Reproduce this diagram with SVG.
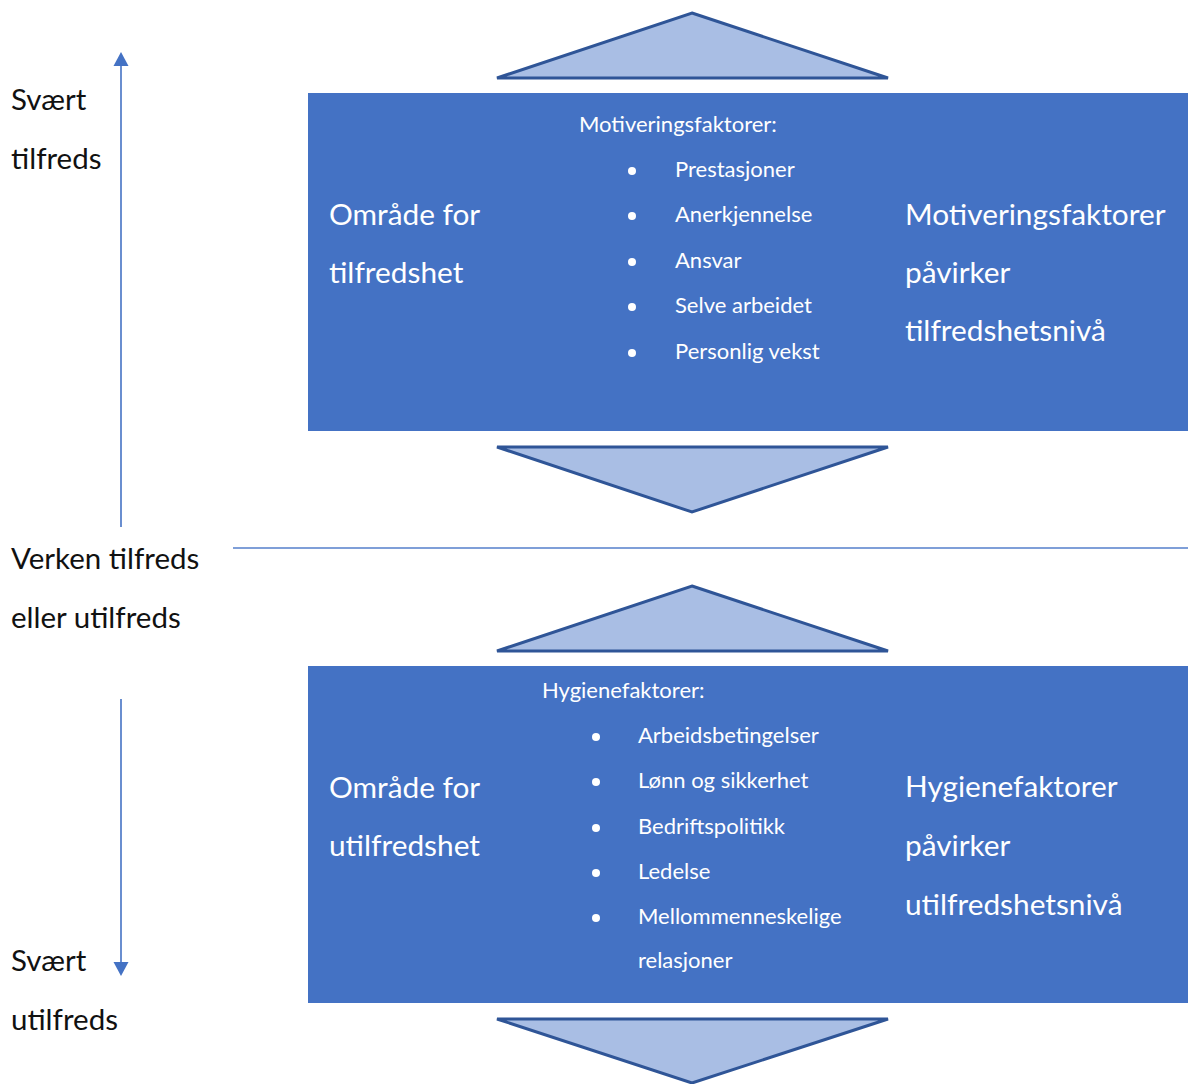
<svg xmlns="http://www.w3.org/2000/svg" width="1188" height="1084" viewBox="0 0 1188 1084">
<style>
.box{fill:#4472C4}
.tri{fill:#A9BEE4;stroke:#2F5597;stroke-width:3;stroke-linejoin:miter}
.lbl{font-family:Lato,"Liberation Sans",sans-serif;font-size:29.5px;fill:#111}
.big{font-family:Lato,"Liberation Sans",sans-serif;font-size:29.8px;fill:#fff}
.sm{font-family:Lato,"Liberation Sans",sans-serif;font-size:22px;fill:#fff}
.dot{fill:#fff}
.ax{stroke:#4472C4;stroke-width:1.6;fill:none}
.head{fill:#4472C4}
</style>
<g id="connectors">
<line class="ax" x1="121" y1="527" x2="121" y2="62"/>
<polygon class="head" points="121,52 128.5,66 113.5,66"/>
<line class="ax" x1="121" y1="699" x2="121" y2="966"/>
<polygon class="head" points="113.5,962 128.5,962 121,976"/>
<line x1="233" y1="548" x2="1188" y2="548" stroke="#7F9FD8" stroke-width="2"/>
</g>
<g id="labels-left">
<text class="lbl" x="11" y="110">Svært</text>
<text class="lbl" x="11" y="169">tilfreds</text>
<text class="lbl" x="11" y="569">Verken tilfreds</text>
<text class="lbl" x="11" y="628">eller utilfreds</text>
<text class="lbl" x="11" y="971">Svært</text>
<text class="lbl" x="11" y="1030">utilfreds</text>
</g>
<g id="tri1"><polygon class="tri" points="692,13 888,78 497,78"/></g>
<g id="box-top">
<rect class="box" x="308" y="93" width="880" height="338"/>
<text class="big" x="329" y="225">Område for</text>
<text class="big" x="329" y="283">tilfredshet</text>
<text class="sm" x="579" y="132">Motiveringsfaktorer:</text>
<circle class="dot" cx="632" cy="171" r="4"/><text class="sm" x="675" y="177">Prestasjoner</text>
<circle class="dot" cx="632" cy="216" r="4"/><text class="sm" x="675" y="222">Anerkjennelse</text>
<circle class="dot" cx="632" cy="262" r="4"/><text class="sm" x="675" y="268">Ansvar</text>
<circle class="dot" cx="632" cy="307" r="4"/><text class="sm" x="675" y="313">Selve arbeidet</text>
<circle class="dot" cx="632" cy="353" r="4"/><text class="sm" x="675" y="359">Personlig vekst</text>
<text class="big" x="905" y="225">Motiveringsfaktorer</text>
<text class="big" x="905" y="283">påvirker</text>
<text class="big" x="905" y="341">tilfredshetsnivå</text>
</g>
<g id="tri2"><polygon class="tri" points="497,447 888,447 692,512"/></g>
<g id="tri3"><polygon class="tri" points="692,586 888,651 497,651"/></g>
<g id="box-bottom">
<rect class="box" x="308" y="666" width="880" height="337"/>
<text class="big" x="329" y="798">Område for</text>
<text class="big" x="329" y="856">utilfredshet</text>
<text class="sm" x="542" y="698">Hygienefaktorer:</text>
<circle class="dot" cx="596" cy="737" r="4"/><text class="sm" x="638" y="743">Arbeidsbetingelser</text>
<circle class="dot" cx="596" cy="782" r="4"/><text class="sm" x="638" y="788">Lønn og sikkerhet</text>
<circle class="dot" cx="596" cy="828" r="4"/><text class="sm" x="638" y="834">Bedriftspolitikk</text>
<circle class="dot" cx="596" cy="873" r="4"/><text class="sm" x="638" y="879">Ledelse</text>
<circle class="dot" cx="596" cy="918" r="4"/><text class="sm" x="638" y="924">Mellommenneskelige</text>
<text class="sm" x="638" y="968">relasjoner</text>
<text class="big" x="905" y="797">Hygienefaktorer</text>
<text class="big" x="905" y="856">påvirker</text>
<text class="big" x="905" y="915">utilfredshetsnivå</text>
</g>
<g id="tri4"><polygon class="tri" points="497,1019 888,1019 692,1083"/></g>
</svg>
